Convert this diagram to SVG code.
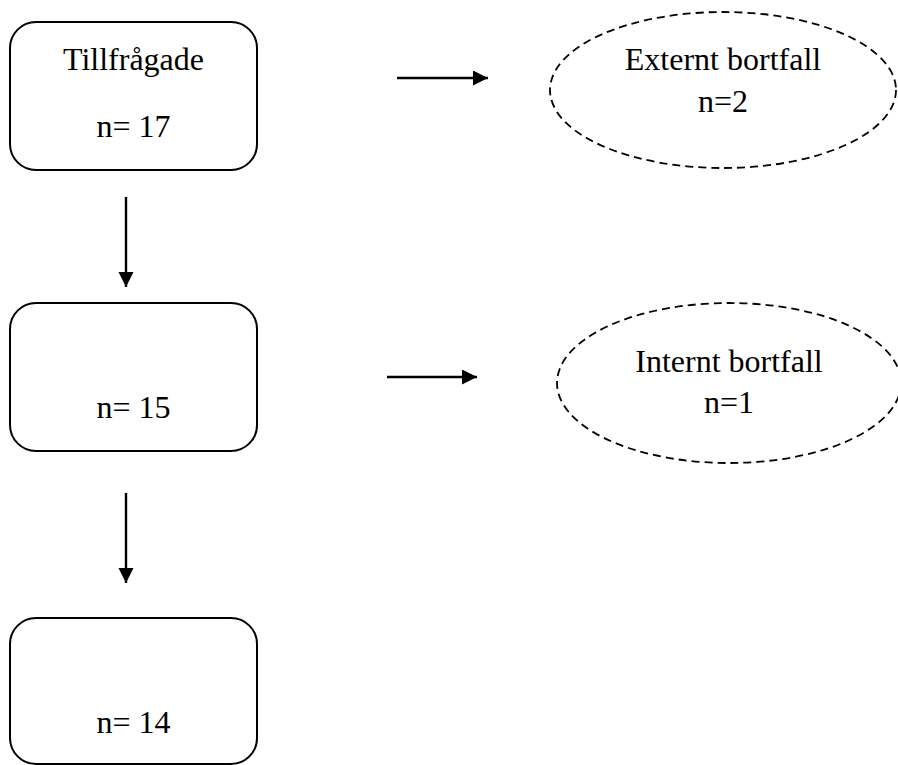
<svg xmlns="http://www.w3.org/2000/svg" width="898" height="765" viewBox="0 0 898 765">
<style>
.box{fill:#fff;stroke:#000;stroke-width:2}
.ell{fill:#fff;stroke:#000;stroke-width:1.8;stroke-dasharray:8 5}
.t{font-family:"Liberation Serif","Times New Roman",serif;font-size:32px;fill:#000;text-anchor:middle}
.c{stroke:#000;stroke-width:2.4;fill:none}
</style>
<defs>
<marker id="ah" markerUnits="userSpaceOnUse" markerWidth="16" markerHeight="16" refX="15" refY="7.5" orient="auto">
<path d="M0,0 L15,7.5 L0,15 Z" fill="#000"/>
</marker>
</defs>
<rect width="898" height="765" fill="#fff"/>
<g id="connectors">
<line class="c" x1="126" y1="197" x2="126" y2="287" marker-end="url(#ah)"/>
<line class="c" x1="126" y1="493" x2="126" y2="583" marker-end="url(#ah)"/>
<line class="c" x1="397" y1="78" x2="488" y2="78" marker-end="url(#ah)"/>
<line class="c" x1="387" y1="377" x2="477" y2="377" marker-end="url(#ah)"/>
</g>
<g id="n1">
<rect class="box" x="10" y="22" width="247" height="148" rx="26"/>
<text class="t" x="133.5" y="70">Tillfrågade</text>
<text class="t" x="133.5" y="137">n= 17</text>
</g>
<g id="n2">
<rect class="box" x="10" y="303" width="247" height="148" rx="26"/>
<text class="t" x="133.5" y="418">n= 15</text>
</g>
<g id="n3">
<rect class="box" x="10" y="618" width="247" height="146" rx="26"/>
<text class="t" x="133.5" y="733">n= 14</text>
</g>
<g id="e1">
<ellipse class="ell" cx="723" cy="90" rx="173" ry="78"/>
<text class="t" x="723" y="70">Externt bortfall</text>
<text class="t" x="723" y="112">n=2</text>
</g>
<g id="e2">
<ellipse class="ell" cx="729" cy="383" rx="172" ry="80"/>
<text class="t" x="729" y="372">Internt bortfall</text>
<text class="t" x="729" y="413">n=1</text>
</g>
</svg>
